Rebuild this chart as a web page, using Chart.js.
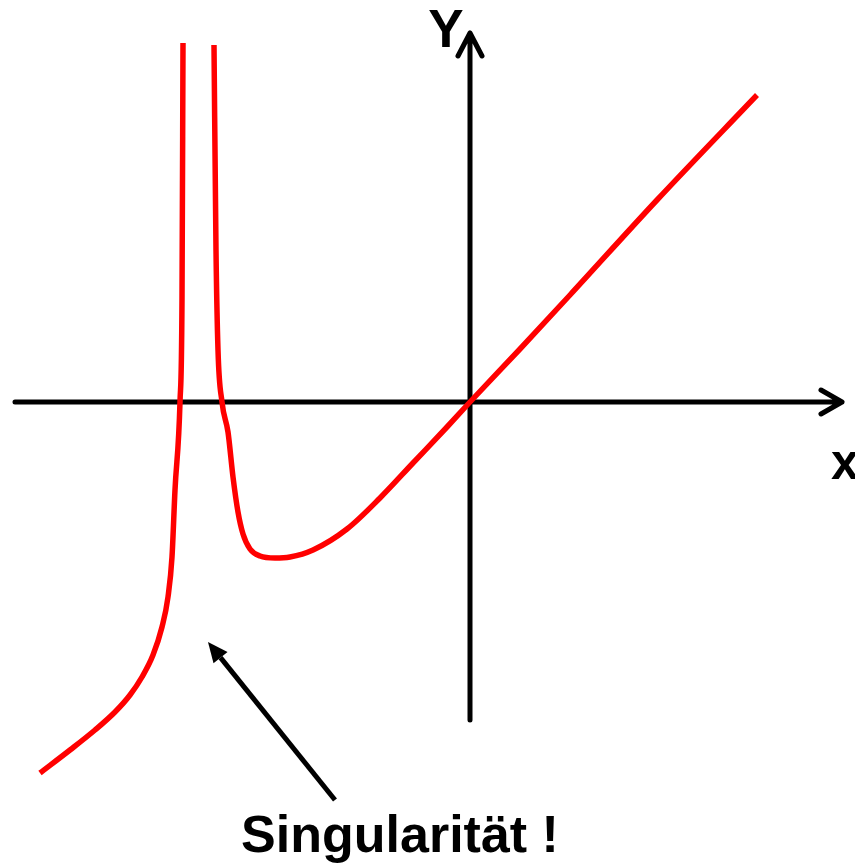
<!DOCTYPE html>
<html lang="de">
<head>
<meta charset="UTF-8">
<title>Singularität</title>
<script src="https://cdn.jsdelivr.net/npm/chart.js"></script>
<style>
  html, body { margin: 0; padding: 0; background: #fff; }
  #wrap { width: 855px; height: 865px; }
</style>
</head>
<body>
<div id="wrap"><canvas id="myChart" width="855" height="865"></canvas></div>
<script>
// curve (arbitrary units, origin at the axes cross)
const leftX  = [-4.30, -4.00, -3.75, -3.55, -3.40, -3.28, -3.17, -3.08, -3.02, -2.98, -2.95, -2.90, -2.88, -2.87];
const leftY  = [-3.71, -3.48, -3.28, -3.10, -2.93, -2.75, -2.53, -2.25, -1.95, -1.55, -0.88, 0.00, 1.02, 3.59];
const rightX = [-2.56, -2.54, -2.52, -2.48, -2.42, -2.37, -2.32, -2.27, -2.20, -2.10, -1.95, -1.80, -1.57, -1.23, -0.90, -0.57, -0.23, 0.00, 0.50, 1.00, 1.87, 2.87];
const rightY = [3.57, 1.52, 0.52, 0.00, -0.30, -0.75, -1.10, -1.32, -1.47, -1.54, -1.56, -1.55, -1.48, -1.27, -0.96, -0.61, -0.25, 0.00, 0.53, 1.07, 2.02, 3.07];

// axes extents and the pointer to the pole
const xAxisRange = [-4.55, 3.72];
const yAxisRange = [-3.18, 3.69];
const pointerFrom = [-1.35, -3.98];
const pointerTo   = [-2.62, -2.40];

const labelY = 'Y';
const labelX = 'x';
const note = 'Singularität !';

function toPoints(xs, ys) {
    return xs.map((x, i) => ({ x: x, y: ys[i] }));
}

const axesPlugin = {
    id: 'axes',
    beforeDatasetsDraw(chart) {
        const ctx = chart.ctx;
        const sx = chart.scales.x, sy = chart.scales.y;
        const x0 = sx.getPixelForValue(0), y0 = sy.getPixelForValue(0);
        ctx.save();
        ctx.strokeStyle = '#000';
        ctx.lineWidth = 5;
        ctx.lineCap = 'round';
        ctx.lineJoin = 'round';
        // x axis
        const xa = sx.getPixelForValue(xAxisRange[0]), xb = sx.getPixelForValue(xAxisRange[1]);
        ctx.beginPath();
        ctx.moveTo(xa, y0); ctx.lineTo(xb, y0);
        ctx.moveTo(xb - 21, y0 - 12); ctx.lineTo(xb, y0); ctx.lineTo(xb - 21, y0 + 12);
        ctx.stroke();
        // y axis
        const ya = sy.getPixelForValue(yAxisRange[0]), yb = sy.getPixelForValue(yAxisRange[1]);
        ctx.beginPath();
        ctx.moveTo(x0, ya); ctx.lineTo(x0, yb);
        ctx.moveTo(x0 - 12, yb + 23); ctx.lineTo(x0, yb); ctx.lineTo(x0 + 12, yb + 23);
        ctx.stroke();
        ctx.restore();
    },
    afterDatasetsDraw(chart) {
        const ctx = chart.ctx;
        const sx = chart.scales.x, sy = chart.scales.y;
        const x0 = sx.getPixelForValue(0), y0 = sy.getPixelForValue(0);
        ctx.save();
        ctx.fillStyle = '#000';
        ctx.font = 'bold 53px "Liberation Sans", Arial, sans-serif';
        ctx.textAlign = 'center';
        ctx.textBaseline = 'alphabetic';
        ctx.fillText(labelY, x0 - 24, 47);
        ctx.font = 'bold 50px "Liberation Sans", Arial, sans-serif';
        ctx.textAlign = 'left';
        ctx.fillText(labelX, 831, y0 + 77);
        ctx.font = 'bold 52px "Liberation Sans", Arial, sans-serif';
        ctx.textAlign = 'center';
        ctx.fillText(note, 400, 852);

        // pointer arrow
        const px1 = sx.getPixelForValue(pointerFrom[0]), py1 = sy.getPixelForValue(pointerFrom[1]);
        const px2 = sx.getPixelForValue(pointerTo[0]), py2 = sy.getPixelForValue(pointerTo[1]);
        const ang = Math.atan2(py2 - py1, px2 - px1);
        const head = 20, half = 9;
        const bx = px2 - head * Math.cos(ang), by = py2 - head * Math.sin(ang);
        ctx.strokeStyle = '#000';
        ctx.lineWidth = 5;
        ctx.beginPath();
        ctx.moveTo(px1, py1); ctx.lineTo(bx, by);
        ctx.stroke();
        ctx.beginPath();
        ctx.moveTo(px2, py2);
        ctx.lineTo(bx + half * Math.sin(ang), by - half * Math.cos(ang));
        ctx.lineTo(bx - half * Math.sin(ang), by + half * Math.cos(ang));
        ctx.closePath();
        ctx.fill();
        ctx.restore();
    }
};

const ctx = document.getElementById('myChart').getContext('2d');
const myChart = new Chart(ctx, {
    type: 'scatter',
    data: {
        datasets: [
            { data: toPoints(leftX, leftY), showLine: true, borderColor: '#ff0000', borderWidth: 5.5,
              pointRadius: 0, cubicInterpolationMode: 'monotone', borderCapStyle: 'butt' },
            { data: toPoints(rightX, rightY), showLine: true, borderColor: '#ff0000', borderWidth: 5.5,
              pointRadius: 0, cubicInterpolationMode: 'monotone', borderCapStyle: 'butt' }
        ]
    },
    options: {
        responsive: false,
        animation: false,
        layout: { padding: 0 },
        plugins: { legend: { display: false }, tooltip: { enabled: false } },
        scales: {
            x: { type: 'linear', min: -4.70, max: 3.85, display: false },
            y: { type: 'linear', min: -4.63, max: 4.02, display: false }
        }
    },
    plugins: [axesPlugin]
});
</script>
</body>
</html>
